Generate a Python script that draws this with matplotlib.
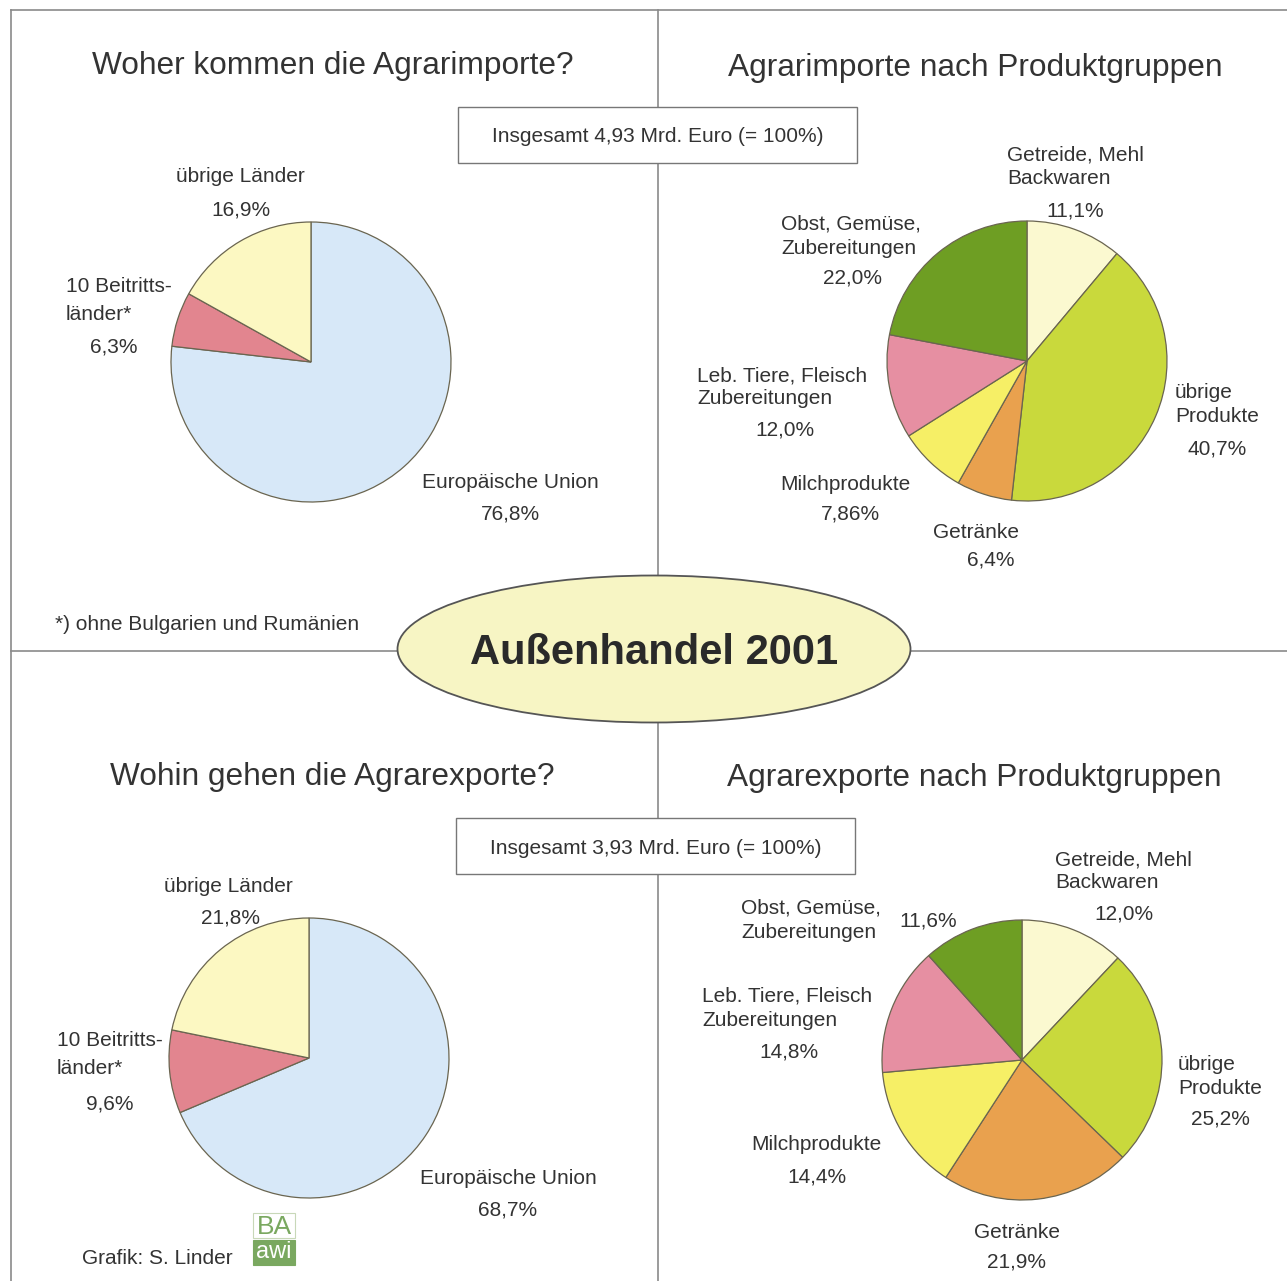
import matplotlib
matplotlib.use("Agg")
import matplotlib.pyplot as plt
from matplotlib.patches import Ellipse, Rectangle

plt.rcParams['font.family'] = ['Liberation Sans', 'DejaVu Sans']

W, H = 1287, 1281
TXT = '#333333'
DY = 2  # text baseline nudge

# data
laender = ['Europäische Union', '10 Beitritts-\nländer*', 'übrige Länder']
imp_laender = [76.8, 6.3, 16.9]
exp_laender = [68.7, 9.6, 21.8]

gruppen = ['Getreide, Mehl\nBackwaren', 'übrige\nProdukte', 'Getränke',
           'Milchprodukte', 'Leb. Tiere, Fleisch\nZubereitungen',
           'Obst, Gemüse,\nZubereitungen']
imp_gruppen = [11.1, 40.7, 6.4, 7.86, 12.0, 22.0]
exp_gruppen = [12.0, 25.2, 21.9, 14.4, 14.8, 11.6]

imp_total = 4.93
exp_total = 3.93

col_laender = ['#d7e8f8', '#e2858f', '#fcf8c2']
col_gruppen = ['#fbf9d0', '#c9d93c', '#e9a14e', '#f6ef66', '#e68fa2', '#6e9e23']

fig = plt.figure(figsize=(W / 100, H / 100), dpi=100)
ax = fig.add_axes([0, 0, 1, 1])
ax.set_xlim(0, W)
ax.set_ylim(H, 0)
ax.axis('off')

# frame lines
lc = '#8a8a8a'
ax.plot([11, W], [10, 10], color=lc, lw=1.2)
ax.plot([11, 11], [10, H], color=lc, lw=1.2)
ax.plot([658, 658], [10, H], color=lc, lw=1.2)
ax.plot([11, W], [651, 651], color=lc, lw=1.2)

ax.add_patch(Ellipse((654, 649), 513, 147, facecolor='#f7f5c4',
                     edgecolor='#555555', lw=1.3, zorder=3))
ax.text(654, 651 + DY, 'Außenhandel 2001', ha='center', va='center', fontsize=30,
        fontweight='bold', color='#2a2a2a', zorder=4)

# total boxes
for (bx, by), tot in [((458, 107), imp_total), ((456, 818), exp_total)]:
    ax.add_patch(Rectangle((bx, by), 399, 56, facecolor='white',
                           edgecolor='#777777', lw=1.0, zorder=3))
    ax.text(bx + 199.5, by + 28 + DY, 'Insgesamt %s Mrd. Euro (= 100%%)' % str(tot).replace('.', ','),
            ha='center', va='center', fontsize=15, color=TXT, zorder=4)

# titles
ax.text(333, 64 + DY, 'Woher kommen die Agrarimporte?', ha='center', va='center', fontsize=22.8, color=TXT)
ax.text(975, 66 + DY, 'Agrarimporte nach Produktgruppen', ha='center', va='center', fontsize=22.8, color=TXT)
ax.text(332, 775 + DY, 'Wohin gehen die Agrarexporte?', ha='center', va='center', fontsize=22.8, color=TXT)
ax.text(974, 776 + DY, 'Agrarexporte nach Produktgruppen', ha='center', va='center', fontsize=22.8, color=TXT)

ax.text(55, 622 + DY, '*) ohne Bulgarien und Rumänien', ha='left', va='center', fontsize=15, color=TXT)
ax.text(82, 1257 + DY, 'Grafik: S. Linder', ha='left', va='center', fontsize=15, color=TXT)

# BA awi logo
green = '#7aa860'
ax.add_patch(Rectangle((253, 1213), 42, 25, facecolor='white', edgecolor='#c8d8b8', lw=0.8))
ax.text(274, 1227, 'BA', ha='center', va='center', fontsize=19, color=green)
ax.add_patch(Rectangle((253, 1240), 42, 25, facecolor=green, edgecolor=green, lw=0.8))
ax.text(274, 1252, 'awi', ha='center', va='center', fontsize=17, color='white')


def pie(cx, cy, values, colors, r=140):
    pad = 3
    pa = fig.add_axes([(cx - r - pad) / W, 1 - (cy + r + pad) / H,
                       (2 * r + 2 * pad) / W, (2 * r + 2 * pad) / H])
    pa.pie(values, colors=colors, startangle=90, counterclock=False, radius=1,
           wedgeprops=dict(edgecolor='#6a6550', linewidth=0.9))
    lim = (r + pad) / r
    pa.set_xlim(-lim, lim)
    pa.set_ylim(-lim, lim)
    pa.set_aspect('equal')
    pa.axis('off')


def labels(names, values, spots):
    for name, v, (nx, ny, ha, gap, px, py) in zip(names, values, spots):
        for i, line in enumerate(name.split('\n')):
            ax.text(nx, ny + i * gap + DY, line, ha=ha, va='center', fontsize=15, color=TXT)
        ax.text(px, py + DY, str(v).replace('.', ',') + '%', ha='center', va='center',
                fontsize=15, color=TXT)


pie(311, 362, imp_laender, col_laender)
labels(laender, imp_laender, [
    (510, 480, 'center', 0, 510, 512),
    (66, 284, 'left', 28, 114, 345),
    (240, 175, 'center', 0, 241, 208),
])

pie(309, 1058, exp_laender, col_laender)
labels(laender, exp_laender, [
    (508, 1176, 'center', 0, 508, 1208),
    (57, 1039, 'left', 28, 110, 1102),
    (228, 884, 'center', 0, 230, 916),
])

pie(1027, 361, imp_gruppen, col_gruppen)
labels(gruppen, imp_gruppen, [
    (1007, 153, 'left', 24, 1075, 209),
    (1175, 391, 'left', 23, 1217, 447),
    (976, 530, 'center', 0, 991, 558),
    (845, 482, 'center', 0, 850, 512),
    (697, 374, 'left', 23, 785, 428),
    (781, 222, 'left', 24, 852, 276),
])

pie(1022, 1060, exp_gruppen, col_gruppen)
labels(gruppen, exp_gruppen, [
    (1055, 858, 'left', 23, 1124, 912),
    (1178, 1063, 'left', 23, 1220, 1117),
    (1017, 1230, 'center', 0, 1017, 1260),
    (816, 1143, 'center', 0, 817, 1175),
    (702, 994, 'left', 24, 789, 1050),
    (741, 906, 'left', 24, 928, 919),
])

fig.savefig('out.png', dpi=100)
